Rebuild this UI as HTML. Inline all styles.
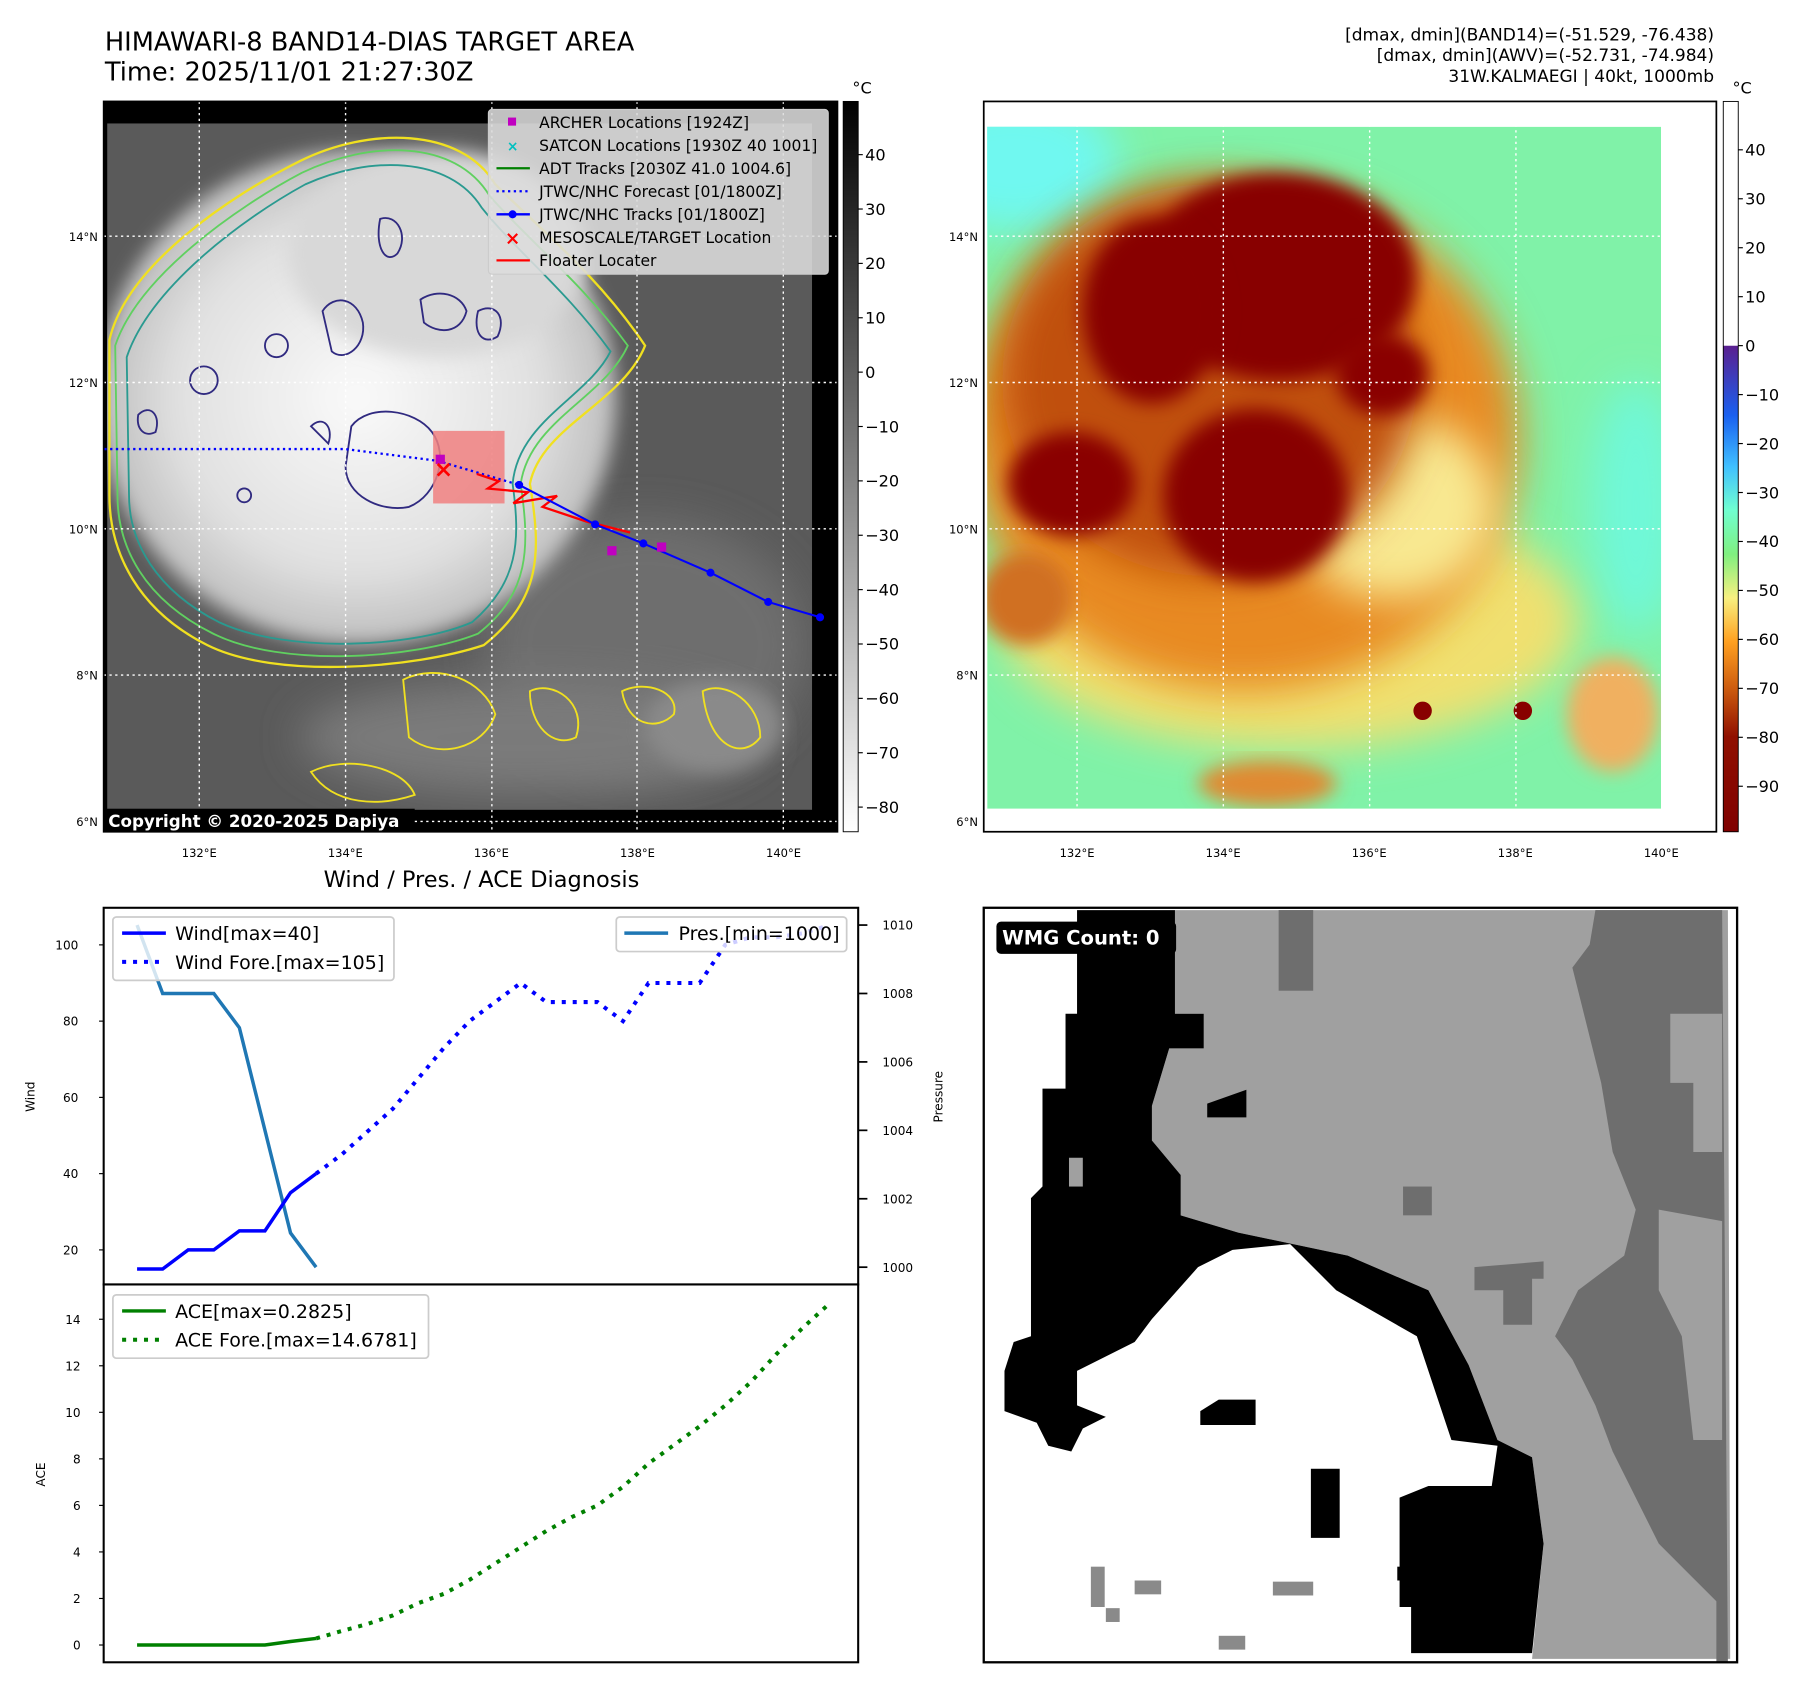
<!DOCTYPE html>
<html><head><meta charset="utf-8">
<style>
html,body{margin:0;padding:0;background:#fff;}
svg{display:block;font-family:"DejaVu Sans","Liberation Sans",sans-serif;}
</style></head>
<body>
<svg id="fig" xmlns="http://www.w3.org/2000/svg" width="1797" height="1690" viewBox="0 0 1560 1467">
<defs>
<filter id="blur8" x="-20%" y="-20%" width="140%" height="140%"><feGaussianBlur stdDeviation="8"/></filter>
<filter id="blur18" x="-30%" y="-30%" width="160%" height="160%"><feGaussianBlur stdDeviation="18"/></filter>
<linearGradient id="cbGray" x1="0" y1="0" x2="0" y2="1"><stop offset="0" stop-color="#000"/><stop offset="1" stop-color="#fff"/></linearGradient>
<linearGradient id="cbColor" x1="0" y1="0" x2="0" y2="1">
<stop offset="0" stop-color="#fff"/><stop offset="0.334" stop-color="#fff"/>
<stop offset="0.335" stop-color="#5a2090"/><stop offset="0.43" stop-color="#1a60f0"/>
<stop offset="0.5" stop-color="#40c0ff"/><stop offset="0.56" stop-color="#70ffd0"/>
<stop offset="0.62" stop-color="#80f080"/><stop offset="0.68" stop-color="#f8f080"/>
<stop offset="0.74" stop-color="#ffa020"/><stop offset="0.8" stop-color="#d06010"/>
<stop offset="0.87" stop-color="#901000"/><stop offset="1" stop-color="#800000"/></linearGradient>
<radialGradient id="cloudW" cx="0.5" cy="0.5" r="0.5"><stop offset="0" stop-color="#fafafa"/><stop offset="0.7" stop-color="#e0e0e0"/><stop offset="1" stop-color="#bdbdbd"/></radialGradient>
<clipPath id="clip1"><rect x="90" y="88" width="637" height="634"/></clipPath>
<clipPath id="clip1i"><rect x="93" y="107" width="612" height="596"/></clipPath>
<clipPath id="clip2"><rect x="854" y="88" width="636" height="634"/></clipPath>
<clipPath id="clip2i"><rect x="857" y="110" width="585" height="592"/></clipPath>
</defs>

<text x="91" y="44" font-size="22.3">HIMAWARI-8 BAND14-DIAS TARGET AREA</text>
<text x="91" y="70" font-size="22.3">Time: 2025/11/01 21:27:30Z</text>
<g font-size="14.8" text-anchor="end">
<text x="1488" y="35">[dmax, dmin](BAND14)=(-51.529, -76.438)</text>
<text x="1488" y="53">[dmax, dmin](AWV)=(-52.731, -74.984)</text>
<text x="1488" y="71">31W.KALMAEGI | 40kt, 1000mb</text>
</g>

<g clip-path="url(#clip1)">
<rect x="90" y="88" width="637" height="634" fill="#000"/>
<g clip-path="url(#clip1i)">
<rect x="93" y="107" width="612" height="596" fill="#5a5a5a"/>
<ellipse cx="560" cy="560" rx="140" ry="110" fill="#6e6e6e" filter="url(#blur18)"/>
<ellipse cx="460" cy="640" rx="200" ry="50" fill="#7a7a7a" filter="url(#blur18)"/>
<ellipse cx="620" cy="630" rx="60" ry="40" fill="#8a8a8a" filter="url(#blur8)"/>
<ellipse cx="310" cy="345" rx="225" ry="215" fill="url(#cloudW)" filter="url(#blur8)"/>
<ellipse cx="380" cy="220" rx="130" ry="90" fill="#d8d8d8" filter="url(#blur8)"/>
<path d="M95,295 C110,230 200,170 260,140 C320,110 400,110 430,160 C470,200 520,240 560,300 C540,350 470,370 460,420 C470,480 470,520 420,560 C360,580 240,590 180,560 C120,530 95,480 95,430 Z" fill="none" stroke="#f0e020" stroke-width="2"/>
<path d="M100,300 C120,240 205,180 262,150 C320,122 395,120 425,170 C460,210 505,245 545,300 C525,345 460,365 452,420 C460,475 460,515 415,550 C360,572 245,580 185,550 C125,520 102,475 102,430 Z" fill="none" stroke="#60d060" stroke-width="1.6"/>
<path d="M110,310 C130,250 210,190 265,160 C320,135 390,135 418,180 C450,220 490,250 530,305 C510,345 450,365 445,420 C452,470 450,505 410,540 C360,562 250,568 190,540 C135,512 112,470 112,430 Z" fill="none" stroke="#2a9a90" stroke-width="1.6"/>
<g fill="none" stroke="#302a80" stroke-width="1.6">
<path d="M305,370 C320,350 360,355 375,375 C390,395 380,430 355,440 C330,445 300,430 300,405 Z"/>
<path d="M280,270 C290,255 310,258 315,280 C318,300 300,315 288,305 Z"/>
<path d="M330,190 C345,185 355,205 345,220 C335,230 325,215 330,190 Z"/>
<path d="M365,260 C380,250 400,255 405,270 C400,290 380,290 368,280 Z"/>
<path d="M415,270 C430,262 440,275 432,292 C420,300 410,290 415,270 Z"/>
<path d="M270,370 C280,360 290,370 285,385 Z"/>
<circle cx="177" cy="330" r="12"/><circle cx="240" cy="300" r="10"/><circle cx="212" cy="430" r="6"/>
<path d="M120,360 C130,350 140,360 135,375 C125,380 118,372 120,360 Z"/>
</g>
<g fill="none" stroke="#f0e020" stroke-width="1.6">
<path d="M350,590 C380,575 420,590 430,620 C420,650 380,660 355,640 Z"/>
<path d="M540,600 C560,590 590,600 585,620 C570,635 545,630 540,600 Z"/>
<path d="M610,600 C630,590 660,610 660,640 C645,660 615,650 610,600 Z"/>
<path d="M270,670 C300,655 350,665 360,690 C330,700 290,700 270,670 Z"/>
<path d="M460,600 C480,590 510,610 500,640 C480,650 460,630 460,600 Z"/>
</g>
</g>
<g stroke="#fff" stroke-width="1.2" stroke-dasharray="2,3">
<line x1="173" y1="88" x2="173" y2="722"/><line x1="300" y1="88" x2="300" y2="722"/><line x1="427" y1="88" x2="427" y2="722"/><line x1="553" y1="88" x2="553" y2="722"/><line x1="680" y1="88" x2="680" y2="722"/>
<line x1="90" y1="205" x2="727" y2="205"/><line x1="90" y1="332" x2="727" y2="332"/><line x1="90" y1="459" x2="727" y2="459"/><line x1="90" y1="586" x2="727" y2="586"/><line x1="90" y1="713" x2="727" y2="713"/>
</g>
<rect x="376" y="374" width="62" height="63" fill="#f08080" opacity="0.85"/>
<g id="tracks"></g>
</g>
<rect x="90" y="88" width="637" height="634" fill="none" stroke="#000" stroke-width="1.5"/>
<g>
<rect x="90" y="702" width="270" height="20" fill="#000"/>
<text x="94" y="718" fill="#fff" font-size="14.5" font-weight="bold">Copyright © 2020-2025 Dapiya</text>
</g>
<g font-size="13.5">
<rect x="424" y="95" width="295" height="143" rx="3" fill="#dcdcdc" fill-opacity="0.88" stroke="#ccc"/>
<rect x="441" y="102" width="7" height="7" fill="#c000c0"/><text x="468" y="111">ARCHER Locations [1924Z]</text>
<text x="445" y="131" font-size="12" fill="#00c0c0" text-anchor="middle" font-weight="bold">×</text><text x="468" y="131">SATCON Locations [1930Z 40 1001]</text>
<line x1="431" y1="146" x2="460" y2="146" stroke="#008000" stroke-width="2"/><text x="468" y="151">ADT Tracks [2030Z 41.0 1004.6]</text>
<line x1="431" y1="166" x2="460" y2="166" stroke="#00f" stroke-width="2" stroke-dasharray="2,3"/><text x="468" y="171">JTWC/NHC Forecast [01/1800Z]</text>
<line x1="431" y1="186" x2="460" y2="186" stroke="#00f" stroke-width="2"/><circle cx="445" cy="186" r="3.5" fill="#00f"/><text x="468" y="191">JTWC/NHC Tracks [01/1800Z]</text>
<text x="445" y="212" font-size="16" fill="#f00" text-anchor="middle" font-weight="bold">×</text><text x="468" y="211">MESOSCALE/TARGET Location</text>
<line x1="431" y1="226" x2="460" y2="226" stroke="#f00" stroke-width="2"/><text x="468" y="231">Floater Locater</text>
</g>
<g>
<rect x="732" y="88" width="13" height="634" fill="url(#cbGray)" stroke="#000" stroke-width="0.8"/>
<text x="740" y="81" font-size="14">°C</text>
<g font-size="14" id="cb1labels"></g>
</g>
<g font-size="10" id="map1ticks"></g>

<g clip-path="url(#clip2)">
<rect x="854" y="88" width="636" height="634" fill="#fff"/>
<g clip-path="url(#clip2i)">
<rect x="857" y="110" width="585" height="592" fill="#80f2a8"/>
<ellipse cx="880" cy="140" rx="90" ry="60" fill="#70f8f0" filter="url(#blur18)"/>
<ellipse cx="1420" cy="440" rx="40" ry="110" fill="#70f8d8" filter="url(#blur18)"/>
<ellipse cx="1120" cy="540" rx="250" ry="110" fill="#f0e070" filter="url(#blur18)"/>
<ellipse cx="1080" cy="380" rx="240" ry="220" fill="#e88a20" filter="url(#blur18)"/>
<ellipse cx="1210" cy="440" rx="90" ry="80" fill="#f8e890" filter="url(#blur18)"/>
<ellipse cx="1050" cy="330" rx="180" ry="170" fill="#c05010" filter="url(#blur18)"/>
<ellipse cx="1110" cy="240" rx="120" ry="90" fill="#880000" filter="url(#blur8)"/>
<ellipse cx="1000" cy="270" rx="60" ry="80" fill="#880000" filter="url(#blur8)"/>
<ellipse cx="1090" cy="430" rx="80" ry="75" fill="#880000" filter="url(#blur8)"/>
<ellipse cx="930" cy="420" rx="55" ry="45" fill="#8a0000" filter="url(#blur8)"/>
<ellipse cx="1200" cy="325" rx="40" ry="35" fill="#8a0000" filter="url(#blur8)"/>
<ellipse cx="890" cy="520" rx="40" ry="40" fill="#d07020" filter="url(#blur8)"/>
<ellipse cx="1100" cy="680" rx="60" ry="20" fill="#e08a30" filter="url(#blur8)"/>
<ellipse cx="1400" cy="620" rx="40" ry="50" fill="#f0b060" filter="url(#blur8)"/>
<circle cx="1235" cy="617" r="8" fill="#880000"/><circle cx="1322" cy="617" r="8" fill="#880000"/>
</g>
<g stroke="#fff" stroke-width="1.2" stroke-dasharray="2,3">
<line x1="935" y1="88" x2="935" y2="722"/><line x1="1062" y1="88" x2="1062" y2="722"/><line x1="1189" y1="88" x2="1189" y2="722"/><line x1="1316" y1="88" x2="1316" y2="722"/><line x1="1443" y1="88" x2="1443" y2="722"/>
<line x1="854" y1="205" x2="1490" y2="205"/><line x1="854" y1="332" x2="1490" y2="332"/><line x1="854" y1="459" x2="1490" y2="459"/><line x1="854" y1="586" x2="1490" y2="586"/>
</g>
</g>
<rect x="854" y="88" width="636" height="634" fill="none" stroke="#000" stroke-width="1.5"/>
<g>
<rect x="1496" y="88" width="13" height="634" fill="url(#cbColor)" stroke="#000" stroke-width="0.8"/>
<text x="1504" y="81" font-size="14">°C</text>
<g font-size="14" id="cb2labels"></g>
</g>
<g font-size="10" id="map2ticks"></g>

<text x="418" y="770" font-size="19.5" text-anchor="middle">Wind / Pres. / ACE Diagnosis</text>
<g id="windpanel"></g>
<g id="acepanel"></g>

<g>
<rect x="854" y="788" width="654" height="655" fill="#fff"/>
<polygon fill="#a0a0a0" points="1020,790 1500,790 1502,1440 1330,1440 1340,1340 1330,1265 1300,1250 1275,1185 1240,1120 1170,1090 1075,1070 1025,1055 1025,1020 1000,990 1000,960 1015,910 1045,910 1045,880 1020,880"/>
<polygon fill="#6e6e6e" points="1385,790 1495,790 1500,1443 1490,1443 1490,1390 1470,1370 1440,1340 1420,1300 1400,1260 1385,1220 1365,1180 1350,1160 1370,1120 1410,1090 1420,1050 1400,1000 1390,940 1375,880 1365,840 1380,820"/>
<polygon fill="#a0a0a0" points="1450,880 1495,880 1495,1000 1470,1000 1470,940 1450,940"/>
<polygon fill="#a0a0a0" points="1440,1050 1495,1060 1495,1250 1470,1250 1460,1160 1440,1120"/>
<rect x="1110" y="790" width="30" height="70" fill="#6e6e6e"/>
<rect x="1218" y="1030" width="25" height="25" fill="#6e6e6e"/>
<polygon fill="#6e6e6e" points="1280,1100 1340,1095 1340,1110 1330,1110 1330,1150 1305,1150 1305,1120 1280,1120"/>
<polygon fill="#000" points="935,790 1020,790 1020,880 1045,880 1045,910 1015,910 1000,960 1000,990 1025,1020 1025,1055 1075,1070 1170,1090 1240,1120 1275,1185 1300,1250 1330,1265 1340,1340 1330,1435 1225,1435 1225,1395 1215,1395 1215,1300 1240,1290 1295,1290 1300,1255 1260,1250 1230,1160 1160,1120 1120,1080 1070,1085 1040,1100 1000,1145 985,1165 935,1190 935,1220 960,1230 940,1240 930,1260 910,1255 900,1235 872,1225 872,1190 880,1165 895,1160 895,1040 905,1030 905,945 925,945 925,880 935,880"/>
<polygon fill="#000" points="1048,958 1082,946 1082,970 1048,970"/>
<polygon fill="#000" points="1042,1225 1058,1215 1090,1215 1090,1237 1042,1237"/>
<rect x="1138" y="1275" width="25" height="60" fill="#000"/>
<rect x="1213" y="1360" width="12" height="12" fill="#000"/>
<rect x="928" y="1005" width="12" height="25" fill="#a0a0a0"/>
<rect x="947" y="1360" width="12" height="35" fill="#8a8a8a"/><rect x="985" y="1372" width="23" height="12" fill="#8a8a8a"/>
<rect x="1105" y="1373" width="35" height="12" fill="#8a8a8a"/><rect x="1058" y="1420" width="23" height="12" fill="#8a8a8a"/><rect x="960" y="1396" width="12" height="12" fill="#8a8a8a"/>
<rect x="854" y="788" width="654" height="655" fill="none" stroke="#000" stroke-width="2"/>
<rect x="865" y="800" width="156" height="28" rx="4" fill="#000"/>
<text x="870" y="820" fill="#fff" font-size="17" font-weight="bold">WMG Count: 0</text>
</g>
</svg>

<script>
const windObs = [15, 15, 20, 20, 25, 25, 35, 40];
const windFore = [40, 45, 51, 57, 65, 73, 80, 85, 90, 85, 85, 85, 80, 90, 90, 90, 100, 102, 102, 103, 105];
const presObs = [1010, 1008, 1008, 1008, 1007, 1004, 1001, 1000];
const aceObs = [0, 0, 0, 0, 0, 0, 0.15, 0.2825];
const aceFore = [0.2825, 0.6, 0.9, 1.27, 1.8, 2.2, 2.8, 3.5, 4.2, 4.9, 5.5, 6.0, 6.8, 7.8, 8.6, 9.4, 10.3, 11.3, 12.5, 13.6, 14.6];
const windTicks = [20, 40, 60, 80, 100];
const presTicks = [1000, 1002, 1004, 1006, 1008, 1010];
const aceTicks = [0, 2, 4, 6, 8, 10, 12, 14];
const cb1Ticks = [40, 30, 20, 10, 0, -10, -20, -30, -40, -50, -60, -70, -80];
const cb2Ticks = [40, 30, 20, 10, 0, -10, -20, -30, -40, -50, -60, -70, -80, -90];
const latTicks = [14, 12, 10, 8, 6];
const lonTicks = [132, 134, 136, 138, 140];
const trackLon = [136.38, 137.42, 138.08, 139.0, 139.79, 140.5];
const trackLat = [10.6, 10.06, 9.8, 9.4, 9.0, 8.79];
const foreLon = [130.7, 134.0, 135.26, 136.38];
const foreLat = [11.09, 11.09, 10.93, 10.6];
const archerLon = [135.3, 137.65, 138.33];
const archerLat = [10.95, 9.7, 9.75];
const floaterLon = [135.8, 136.1, 135.95, 136.5, 136.3, 136.9, 136.7, 137.3, 137.9];
const floaterLat = [10.75, 10.65, 10.55, 10.5, 10.35, 10.45, 10.3, 10.1, 9.95];

const NS = 'http://www.w3.org/2000/svg';
function mk(parent, tag, attrs) {
  const e = document.createElementNS(NS, tag);
  for (const k in attrs) e.setAttribute(k, attrs[k]);
  parent.appendChild(e);
  return e;
}
function txt(parent, x, y, s, attrs) {
  const t = mk(parent, 'text', Object.assign({x: x, y: y}, attrs || {}));
  t.textContent = s;
  return t;
}
const lonX = lon => 173 + (lon - 132) * 63.4;
const latY = lat => 459 - (lat - 10) * 63.5;
const lonX2 = lon => 935 + (lon - 132) * 63.4;

const cb1 = document.getElementById('cb1labels');
cb1Ticks.forEach(v => {
  const y = 323 - v * 4.72;
  mk(cb1, 'line', {x1: 745, x2: 749, y1: y, y2: y, stroke: '#000'});
  const t = txt(cb1, 751, y + 5, v < 0 ? '\u2212' + (-v) : String(v));
  
  
});
const cb2 = document.getElementById('cb2labels');
cb2Ticks.forEach(v => {
  const y = 300 - v * 4.25;
  mk(cb2, 'line', {x1: 1509, x2: 1513, y1: y, y2: y, stroke: '#000'});
  const t = txt(cb2, 1515, y + 5, v < 0 ? '\u2212' + (-v) : String(v));
  
  
});
[['map1ticks', lonX, 90], ['map2ticks', lonX2, 854]].forEach(([id, fx, left]) => {
  const g = document.getElementById(id);
  latTicks.forEach(l => {
    const t = txt(g, left - 5, latY(l) + 4, l + '°N', {'text-anchor': 'end'});
    
    
  });
  lonTicks.forEach(l => {
    const t = txt(g, fx(l), 744, l + '°E', {'text-anchor': 'middle'});
    
    
  });
});
const tg = document.getElementById('tracks');
const fl = mk(tg, 'polyline', {points: foreLon.map((v, i) => lonX(v) + ',' + latY(foreLat[i])).join(' '), fill: 'none', stroke: '#00f', 'stroke-width': 2, 'stroke-dasharray': '2,3'});


const flt = mk(tg, 'polyline', {points: floaterLon.map((v, i) => lonX(v) + ',' + latY(floaterLat[i])).join(' '), fill: 'none', stroke: '#f00', 'stroke-width': 2});


const tl = mk(tg, 'polyline', {points: trackLon.map((v, i) => lonX(v) + ',' + latY(trackLat[i])).join(' '), fill: 'none', stroke: '#00f', 'stroke-width': 1.8});


trackLon.forEach((v, i) => {
  const c = mk(tg, 'circle', {cx: lonX(v), cy: latY(trackLat[i]), r: 3.5, fill: '#00f'});
  
  
});
archerLon.forEach((v, i) => {
  const r = mk(tg, 'rect', {x: lonX(v) - 4, y: latY(archerLat[i]) - 4, width: 8, height: 8, fill: '#c000c0'});
  
  
});
const mx = txt(tg, 385, 414, '×', {fill: '#f00', 'font-size': 20, 'font-weight': 'bold', 'text-anchor': 'middle'});



const X0 = 119, DX = 22.2;
const xi = i => X0 + i * DX;
const windY = v => 1085 - (v - 20) * 3.31;
const presY = v => 1100 - (v - 1000) * 29.7;
const aceY = v => 1428 - v * 20.2;
const wp = document.getElementById('windpanel');
mk(wp, 'rect', {x: 90, y: 788, width: 655, height: 327, fill: 'none', stroke: '#000', 'stroke-width': 1.8});
windTicks.forEach(v => {
  mk(wp, 'line', {x1: 86, x2: 90, y1: windY(v), y2: windY(v), stroke: '#000'});
  const t = txt(wp, 68, windY(v) + 4, String(v), {'font-size': 10.5, 'text-anchor': 'end'});
  
  
});
presTicks.forEach(v => {
  mk(wp, 'line', {x1: 745, x2: 753, y1: presY(v), y2: presY(v), stroke: '#000', 'stroke-width': 1.5});
  const t = txt(wp, 766, presY(v) + 4, String(v), {'font-size': 10.5});
  
  
});
txt(wp, 30, 952, 'Wind', {'font-size': 10.5, 'text-anchor': 'middle', transform: 'rotate(-90 30 952)'});
txt(wp, 818, 952, 'Pressure', {'font-size': 10.5, 'text-anchor': 'middle', transform: 'rotate(-90 818 952)'});
const pl = mk(wp, 'polyline', {points: presObs.map((v, i) => xi(i) + ',' + presY(v)).join(' '), fill: 'none', stroke: '#1f77b4', 'stroke-width': 3});


const wfl = mk(wp, 'polyline', {points: windFore.map((v, i) => xi(i + 7) + ',' + windY(v)).join(' '), fill: 'none', stroke: '#00f', 'stroke-width': 3.5, 'stroke-dasharray': '3.5,6'});


const wl = mk(wp, 'polyline', {points: windObs.map((v, i) => xi(i) + ',' + windY(v)).join(' '), fill: 'none', stroke: '#00f', 'stroke-width': 3});


const lg1 = mk(wp, 'g', {});


mk(lg1, 'rect', {x: 98, y: 796, width: 244, height: 55, rx: 3, fill: '#fff', 'fill-opacity': 0.8, stroke: '#ccc', 'stroke-width': 1.5});
mk(lg1, 'line', {x1: 106, x2: 144, y1: 810, y2: 810, stroke: '#00f', 'stroke-width': 3});
txt(lg1, 152, 816, 'Wind[max=40]', {'font-size': 16.5});
mk(lg1, 'line', {x1: 106, x2: 144, y1: 835, y2: 835, stroke: '#00f', 'stroke-width': 3.5, 'stroke-dasharray': '3.5,6'});
txt(lg1, 152, 841, 'Wind Fore.[max=105]', {'font-size': 16.5});
const lg2 = mk(wp, 'g', {});


mk(lg2, 'rect', {x: 535, y: 796, width: 200, height: 30, rx: 3, fill: '#fff', 'fill-opacity': 0.8, stroke: '#ccc', 'stroke-width': 1.5});
mk(lg2, 'line', {x1: 542, x2: 580, y1: 810, y2: 810, stroke: '#1f77b4', 'stroke-width': 3});
txt(lg2, 589, 816, 'Pres.[min=1000]', {'font-size': 16.5});

const ap = document.getElementById('acepanel');
mk(ap, 'rect', {x: 90, y: 1115, width: 655, height: 328, fill: 'none', stroke: '#000', 'stroke-width': 1.8});
aceTicks.forEach(v => {
  mk(ap, 'line', {x1: 86, x2: 90, y1: aceY(v), y2: aceY(v), stroke: '#000'});
  const t = txt(ap, 70, aceY(v) + 4, String(v), {'font-size': 10.5, 'text-anchor': 'end'});
  
  
});
txt(ap, 39, 1280, 'ACE', {'font-size': 10.5, 'text-anchor': 'middle', transform: 'rotate(-90 39 1280)'});
const afl = mk(ap, 'polyline', {points: aceFore.map((v, i) => xi(i + 7) + ',' + aceY(v)).join(' '), fill: 'none', stroke: '#008000', 'stroke-width': 3.5, 'stroke-dasharray': '3.5,6'});


const al = mk(ap, 'polyline', {points: aceObs.map((v, i) => xi(i) + ',' + aceY(v)).join(' '), fill: 'none', stroke: '#008000', 'stroke-width': 3});


const lg3 = mk(ap, 'g', {});


mk(lg3, 'rect', {x: 98, y: 1124, width: 274, height: 55, rx: 3, fill: '#fff', 'fill-opacity': 0.8, stroke: '#ccc', 'stroke-width': 1.5});
mk(lg3, 'line', {x1: 106, x2: 144, y1: 1138, y2: 1138, stroke: '#008000', 'stroke-width': 3});
txt(lg3, 152, 1144, 'ACE[max=0.2825]', {'font-size': 16.5});
mk(lg3, 'line', {x1: 106, x2: 144, y1: 1163, y2: 1163, stroke: '#008000', 'stroke-width': 3.5, 'stroke-dasharray': '3.5,6'});
txt(lg3, 152, 1169, 'ACE Fore.[max=14.6781]', {'font-size': 16.5});
</script>
</body></html>
